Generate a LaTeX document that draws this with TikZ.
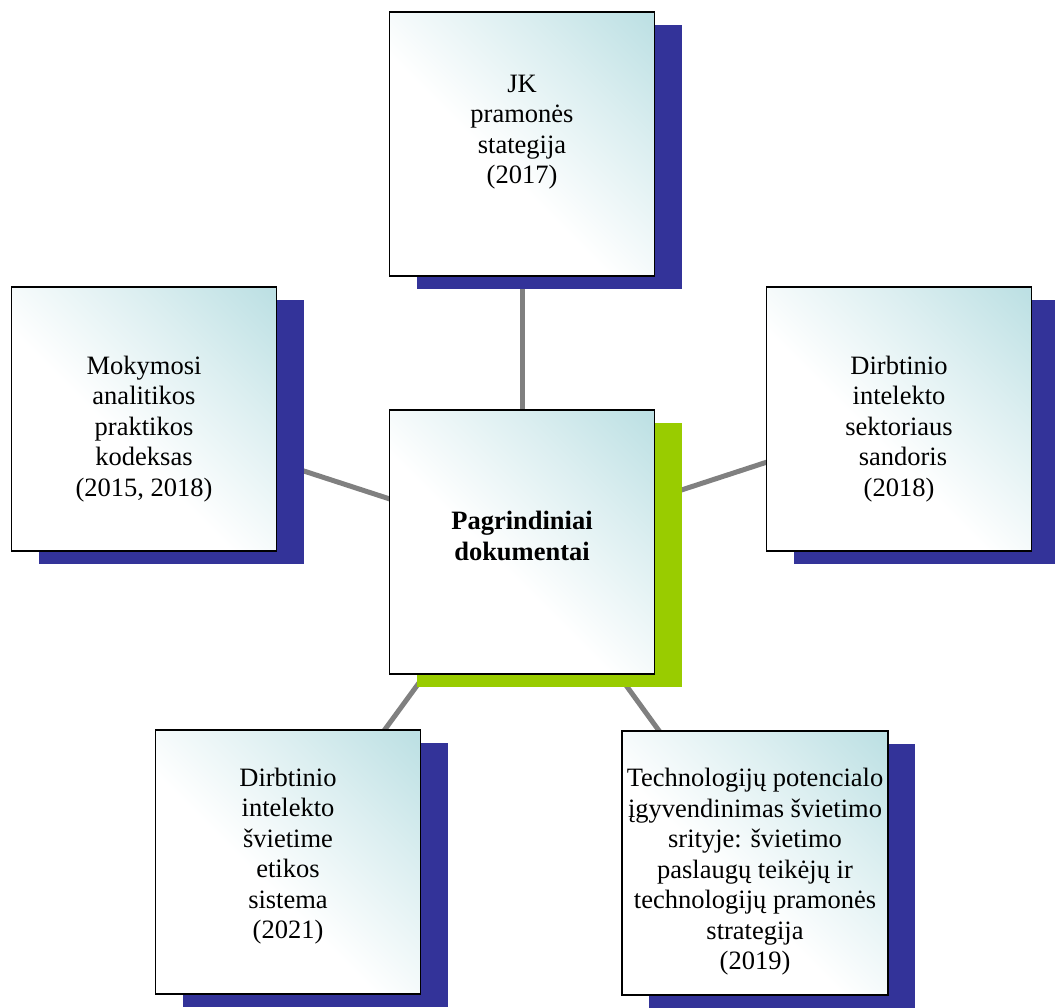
\documentclass[tikz,border=0pt]{standalone}
\usepackage{fontspec}
\setmainfont{Liberation Serif}
\usetikzlibrary{shadows}
\definecolor{boxteal}{RGB}{178,219,223}
\definecolor{shadowblue}{RGB}{51,51,153}
\definecolor{shadowgreen}{RGB}{153,204,0}
\definecolor{linkgray}{RGB}{128,128,128}
\pgfdeclareverticalshading{docfill}{100bp}{color(0bp)=(white); color(44bp)=(white); color(66bp)=(boxteal!45!white); color(84bp)=(boxteal!85!white); color(100bp)=(boxteal)}
\tikzset{
  docbox/.style={draw=black, line width=1.8pt, shading=docfill, shading angle=-45,
    minimum width=265pt, minimum height=264pt, inner sep=0pt,
    general shadow={fill=#1, shadow xshift=27pt, shadow yshift=-13pt}},
  doctext/.style={align=center, font=\fontsize{26.5}{30.5}\selectfont, inner sep=0pt},
  link/.style={draw=linkgray, line width=5pt}
}
\begin{document}
\begin{tikzpicture}[x=1pt, y=-1pt]
\useasboundingbox (0,0) rectangle (1055,1008);
% hub and spoke positions (box centres)
\coordinate (c) at (522,542);
\coordinate (t) at (522,144);
\coordinate (l) at (144,419);
\coordinate (r) at (899,419);
\coordinate (bl) at (288,862);
\coordinate (br) at (755,863);
% connectors, drawn first so the boxes cover their ends
\draw[link] (c) -- (t);
\draw[link] (c) -- (l);
\draw[link] (c) -- (r);
\draw[link] (c) -- (bl);
\draw[link] (c) -- (br);
% boxes with offset shadows
\node[docbox=shadowblue] (topbox) at (t) {};
\node[docbox=shadowblue] (leftbox) at (l) {};
\node[docbox=shadowblue] (rightbox) at (r) {};
\node[docbox=shadowblue] (blbox) at (bl) {};
\node[docbox=shadowblue, minimum width=266pt] (brbox) at (br) {};
\node[docbox=shadowgreen] (hub) at (c) {};
% texts
\node[doctext] (toptext) at (522,132) {JK\\pramonės\\stategija\\(2017)};
\node[doctext] (lefttext) at (144,429) {Mokymosi\\analitikos\\praktikos\\kodeksas\\(2015, 2018)};
\node[doctext] (righttext) at (899,429) {Dirbtinio\\intelekto\\sektoriaus\\\hspace{0.3em}sandoris\\(2018)};
\node[doctext, font=\fontsize{26.5}{30.5}\selectfont\bfseries] (hubtext) at (522,536) {Pagrindiniai\\dokumentai};
\node[doctext] (bltext) at (288,856) {Dirbtinio\\intelekto\\švietime\\etikos\\sistema\\(2021)};
\node[doctext] (brtext) at (755,872) {Technologijų potencialo\\įgyvendinimas švietimo\\srityje: švietimo\\paslaugų teikėjų ir\\technologijų pramonės\\strategija\\(2019)};
\end{tikzpicture}
\end{document}
